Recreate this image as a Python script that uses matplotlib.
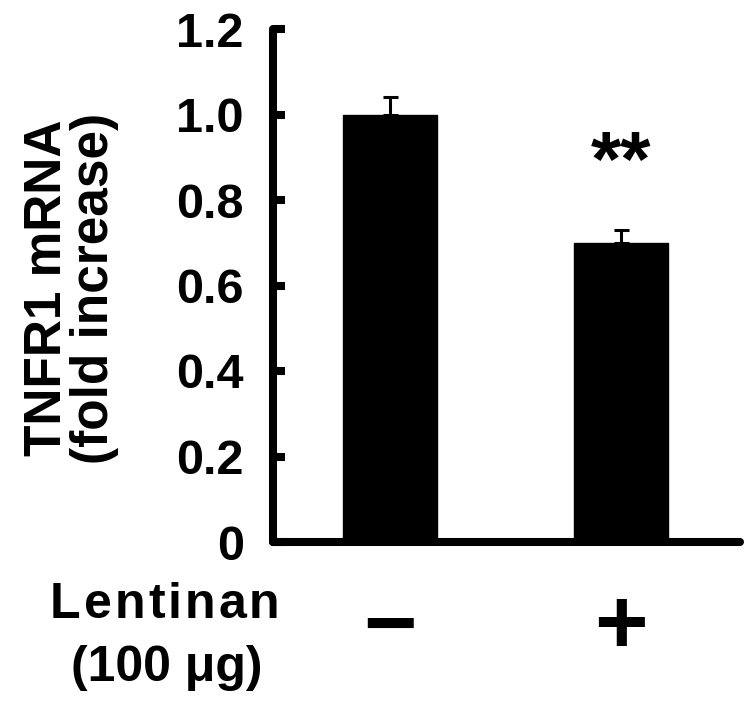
import matplotlib
matplotlib.use("Agg")
import matplotlib.pyplot as plt

plt.rcParams['font.family'] = ['Liberation Sans', 'DejaVu Sans']
plt.rcParams['font.weight'] = 'bold'

# data
groups = ['\u2212', '+']
means = [1.0, 0.70]
err_up = [0.04, 0.03]
yticks = [0, 0.2, 0.4, 0.6, 0.8, 1.0, 1.2]
ytick_labels = ['0', '0.2', '0.4', '0.6', '0.8', '1.0', '1.2']
sig = ['', '**']

W, H = 755, 707
fig = plt.figure(figsize=(W / 100, H / 100), dpi=100)
ax = fig.add_axes([273 / W, 1 - 542 / H, (740 - 273) / W, (542 - 29) / H])

x = list(range(len(groups)))
ax.bar(x, means, width=0.41, color='black', edgecolor='black')
ax.errorbar(x, means, yerr=[[0] * len(means), err_up], fmt='none',
            ecolor='black', elinewidth=2.2, capsize=5.4, capthick=2.2)

for xi, m, e, s in zip(x, means, err_up, sig):
    if s:
        ax.text(xi, m + e + 0.065, s, ha='center', va='bottom',
                fontsize=56, fontweight='bold')

ax.set_xlim(-0.506, 1.515)
ax.set_ylim(0, 1.2)
ax.set_yticks(yticks, ytick_labels)
ax.set_xticks(x, groups)

for side in ['top', 'right']:
    ax.spines[side].set_visible(False)
for side in ['left', 'bottom']:
    ax.spines[side].set_linewidth(5.8)
    ax.spines[side].set_capstyle('round')

ax.tick_params(axis='y', direction='in', length=8.6, width=5.8,
               labelsize=35, pad=21)
ax.tick_params(axis='x', length=0, labelsize=66, pad=32)

fig.text(71 / W, 1 - 288 / H, 'TNFR1 mRNA\n(fold increase)', rotation=90,
         ha='center', va='center', fontsize=37, fontweight='bold',
         linespacing=0.95, multialignment='center')

# letter-spaced "Lentinan"
fig.canvas.draw()
r = fig.canvas.get_renderer()
xp = 50
for ch in 'Lentinan':
    t = fig.text(xp / W, 1 - 605 / H, ch, ha='left', va='center',
                 fontsize=36, fontweight='bold')
    xp += t.get_window_extent(r).width + 3
fig.text(167 / W, 1 - 668 / H, '(100 \u03bcg)', ha='center', va='center',
         fontsize=36, fontweight='bold')

fig.savefig('out.png', dpi=100)
